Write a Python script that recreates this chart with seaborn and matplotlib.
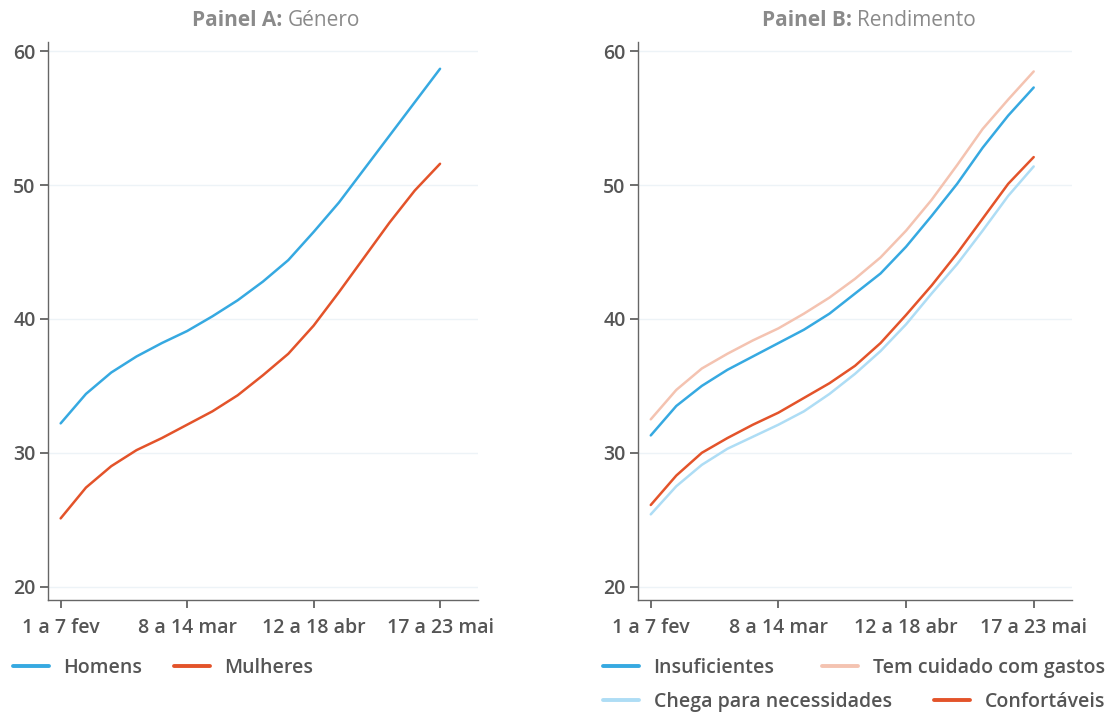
import numpy as np
import pandas as pd
import matplotlib
matplotlib.use("Agg")
import matplotlib.pyplot as plt
import seaborn as sns

weeks = ["1 a 7 fev", "8 a 14 fev", "15 a 21 fev", "22 a 28 fev", "1 a 7 mar",
         "8 a 14 mar", "15 a 21 mar", "22 a 28 mar", "29 mar a 4 abr", "5 a 11 abr",
         "12 a 18 abr", "19 a 25 abr", "26 abr a 2 mai", "3 a 9 mai", "10 a 16 mai",
         "17 a 23 mai"]
tick_idx = [0, 5, 10, 15]

homens = [32.2, 34.4, 36.0, 37.2, 38.2, 39.1, 40.2, 41.4, 42.8, 44.4,
          46.5, 48.7, 51.2, 53.7, 56.2, 58.7]
mulheres = [25.1, 27.4, 29.0, 30.2, 31.1, 32.1, 33.1, 34.3, 35.8, 37.4,
            39.5, 42.0, 44.6, 47.2, 49.6, 51.6]

insuficientes = [31.3, 33.5, 35.0, 36.2, 37.2, 38.2, 39.2, 40.4, 41.9, 43.4,
                 45.4, 47.7, 50.1, 52.8, 55.2, 57.3]
tem_cuidado = [32.5, 34.7, 36.3, 37.4, 38.4, 39.3, 40.4, 41.6, 43.0, 44.6,
               46.6, 48.9, 51.5, 54.2, 56.4, 58.5]
chega = [25.4, 27.5, 29.1, 30.3, 31.2, 32.1, 33.1, 34.4, 35.9, 37.6,
         39.6, 41.9, 44.1, 46.6, 49.2, 51.4]
confortaveis = [26.1, 28.3, 30.0, 31.1, 32.1, 33.0, 34.1, 35.2, 36.5, 38.2,
                40.3, 42.5, 44.9, 47.5, 50.1, 52.1]

panel_a_names = ["Homens", "Mulheres"]
panel_b_names = ["Insuficientes", "Tem cuidado com gastos",
                 "Chega para necessidades", "Confortáveis"]

BLUE = "#36A9E1"
ORANGE = "#E3532A"
PINK = "#F4C3B1"
LIGHTBLUE = "#AEDDF5"
TXT = "#555555"
TITLE = "#8A8A8A"
FS = 14

sns.set_theme(style="white")
plt.rcParams["font.family"] = ["Open Sans", "DejaVu Sans"]

def long_df(names, series):
    rows = []
    for n, s in zip(names, series):
        for i, v in enumerate(s):
            rows.append({"x": i, "y": v, "serie": n})
    return pd.DataFrame(rows)

df_a = long_df(panel_a_names, [homens, mulheres])
df_b = long_df(panel_b_names, [insuficientes, tem_cuidado, chega, confortaveis])

fig = plt.figure(figsize=(11.14, 7.13), dpi=100)
ax_a = fig.add_axes([48/1114, 113/713, 430/1114, 558/713])
ax_b = fig.add_axes([638/1114, 113/713, 434/1114, 558/713])

pal_a = {"Homens": BLUE, "Mulheres": ORANGE}
pal_b = {"Insuficientes": BLUE, "Tem cuidado com gastos": PINK,
         "Chega para necessidades": LIGHTBLUE, "Confortáveis": ORANGE}

sns.lineplot(data=df_a, x="x", y="y", hue="serie", palette=pal_a,
             linewidth=1.8, ax=ax_a, legend=False)
sns.lineplot(data=df_b, x="x", y="y", hue="serie", palette=pal_b,
             hue_order=["Tem cuidado com gastos", "Chega para necessidades",
                        "Insuficientes", "Confortáveis"],
             linewidth=1.8, ax=ax_b, legend=False)

for ax in (ax_a, ax_b):
    ax.set_xlim(-0.5, 16.5)
    ax.set_ylim(19.0, 60.7)
    ax.set_yticks([20, 30, 40, 50, 60])
    ax.set_xticks(tick_idx)
    ax.set_xticklabels([weeks[i] for i in tick_idx])
    ax.set_xlabel("")
    ax.set_ylabel("")
    ax.grid(axis="y", color="#EDF3F7", linewidth=1.0)
    ax.grid(axis="x", visible=False)
    for s in ("top", "right"):
        ax.spines[s].set_visible(False)
    for s in ("left", "bottom"):
        ax.spines[s].set_color("#666666")
        ax.spines[s].set_linewidth(1.0)
    ax.tick_params(axis="both", which="major", direction="out", length=6,
                   width=1.2, color="#555555", labelcolor=TXT, labelsize=FS,
                   bottom=True, left=True)
    ax.tick_params(axis="x", pad=7)
    ax.tick_params(axis="y", pad=3)
    for lab in ax.get_xticklabels() + ax.get_yticklabels():
        lab.set_fontweight(600)

fig.canvas.draw()
renderer = fig.canvas.get_renderer()
def mixed_title(bold, normal, cx_px):
    y = 1 - 21/713
    t1 = fig.text(0, y, bold, fontsize=15, fontweight="bold", color=TITLE,
                  va="center", ha="left")
    t2 = fig.text(0, y, normal, fontsize=15, color=TITLE, va="center", ha="left")
    w1 = t1.get_window_extent(renderer).width
    w2 = t2.get_window_extent(renderer).width
    x0 = cx_px - (w1 + w2) / 2
    t1.set_x(x0 / 1114)
    t2.set_x((x0 + w1) / 1114)

mixed_title("Painel A: ", "Género", 276)
mixed_title("Painel B: ", "Rendimento", 869)

from matplotlib.lines import Line2D
def handles(names, pal):
    return [Line2D([0], [0], color=pal[n], linewidth=2.8) for n in names]

leg_kw = dict(frameon=False, handlelength=1.85, handletextpad=0.75,
              borderaxespad=0, borderpad=0,
              prop={"size": FS, "weight": 600}, labelcolor=TXT)

fig.legend(handles(panel_a_names, pal_a), panel_a_names, ncol=2,
           loc="center left", bbox_to_anchor=(13/1114, 1 - 668/713),
           columnspacing=1.6, **leg_kw)
lb1_names = ["Insuficientes", "Tem cuidado com gastos"]
lb2_names = ["Chega para necessidades", "Confortáveis"]
fig.legend(handles(lb1_names, pal_b), lb1_names, ncol=2,
           loc="center left", bbox_to_anchor=(603/1114, 1 - 668/713),
           columnspacing=2.45, **leg_kw)
fig.legend(handles(lb2_names, pal_b), lb2_names, ncol=2,
           loc="center left", bbox_to_anchor=(603/1114, 1 - 702/713),
           columnspacing=2.2, **leg_kw)

fig.savefig("out.png", dpi=100)
